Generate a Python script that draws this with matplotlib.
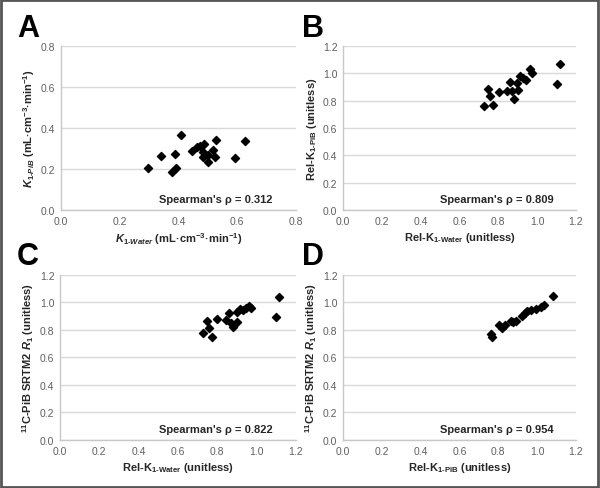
import numpy as np
import matplotlib
matplotlib.use('Agg')
import matplotlib.pyplot as plt
from matplotlib.patches import Rectangle

plt.rcParams['font.family'] = ['Liberation Sans', 'DejaVu Sans']
plt.rcParams['mathtext.fontset'] = 'custom'
plt.rcParams['mathtext.rm'] = 'Liberation Sans:bold'
plt.rcParams['mathtext.bf'] = 'Liberation Sans:bold'
plt.rcParams['mathtext.it'] = 'Liberation Sans:italic:bold'

# panel A: K1-Water vs K1-PiB
a_x = [0.295, 0.341, 0.389, 0.408, 0.377, 0.392, 0.445, 0.463, 0.474, 0.488,
       0.483, 0.483, 0.502, 0.502, 0.525, 0.519, 0.528, 0.591, 0.627]
a_y = [0.205, 0.262, 0.272, 0.366, 0.187, 0.203, 0.289, 0.306, 0.314, 0.320,
       0.285, 0.257, 0.268, 0.236, 0.257, 0.294, 0.340, 0.255, 0.337]

# panel B: Rel-K1-Water vs Rel-K1-PiB
b_x = [0.728, 0.745, 0.759, 0.772, 0.802, 0.845, 0.859, 0.869, 0.879, 0.897,
       0.902, 0.914, 0.928, 0.943, 0.962, 0.971, 1.103, 1.117]
b_y = [0.762, 0.888, 0.835, 0.771, 0.866, 0.871, 0.939, 0.871, 0.815, 0.932,
       0.878, 0.981, 0.968, 0.949, 1.034, 1.005, 0.920, 1.071]

# panel C: Rel-K1-Water vs R1
c_x = [0.729, 0.746, 0.759, 0.773, 0.800, 0.844, 0.858, 0.868, 0.878, 0.898,
       0.902, 0.915, 0.932, 0.946, 0.963, 0.969, 1.098, 1.115]
c_y = [0.775, 0.862, 0.814, 0.751, 0.877, 0.872, 0.920, 0.852, 0.823, 0.930,
       0.857, 0.952, 0.944, 0.959, 0.973, 0.959, 0.896, 1.041]

# panel D: Rel-K1-PiB vs R1
d_x = [0.760, 0.769, 0.803, 0.821, 0.833, 0.864, 0.876, 0.890, 0.924, 0.938,
       0.950, 0.967, 0.993, 1.019, 1.036, 1.080]
d_y = [0.770, 0.750, 0.835, 0.818, 0.835, 0.866, 0.855, 0.866, 0.903, 0.927,
       0.939, 0.946, 0.951, 0.964, 0.980, 1.048]

rho = ['0.312', '0.809', '0.822', '0.954']
letters = ['A', 'B', 'C', 'D']

xlabels = [r'$K_{1\text{-}Water}$ (mL·cm$^{\mathrm{-3}}$·min$^{\mathrm{-1}}$)',
           r'Rel-K$_{\mathrm{1\text{-}Water}}$ (unitless)',
           r'Rel-K$_{\mathrm{1\text{-}Water}}$ (unitless)',
           r'Rel-K$_{\mathrm{1\text{-}PiB}}$ (unitless)']
ylabels = [r'$K_{1\text{-}PiB}$ (mL·cm$^{\mathrm{-3}}$·min$^{\mathrm{-1}}$)',
           r'Rel-K$_{\mathrm{1\text{-}PiB}}$ (unitless)',
           r'$^{\mathrm{11}}$C-PiB SRTM2 $R_{\mathrm{1}}$ (unitless)',
           r'$^{\mathrm{11}}$C-PiB SRTM2 $R_{\mathrm{1}}$ (unitless)']

xs = [a_x, b_x, c_x, d_x]
ys = [a_y, b_y, c_y, d_y]

fig = plt.figure(figsize=(6.0, 4.89), dpi=100)
fig.patches.append(Rectangle((0.002, 0.003), 0.995, 0.994, transform=fig.transFigure,
                             fill=False, edgecolor='#555555', linewidth=2))

boxes = [[0.1017, 0.5685, 0.3917, 0.3354],
         [0.5717, 0.5685, 0.3883, 0.3354],
         [0.1000, 0.0982, 0.3933, 0.3374],
         [0.5717, 0.0982, 0.3883, 0.3374]]
letter_pos = [(0.028, 0.94), (0.503, 0.94), (0.028, 0.475), (0.503, 0.475)]

for i in range(4):
    ax = fig.add_axes(boxes[i])
    top = 0.8 if i == 0 else 1.2
    xmax = 0.8 if i == 0 else 1.2
    ax.set_xlim(0, xmax)
    ax.set_ylim(0, top)
    ax.set_xticks(np.arange(0, xmax + 0.01, 0.2))
    ax.set_yticks(np.arange(0, top + 0.01, 0.2))
    ax.xaxis.set_major_formatter(matplotlib.ticker.FormatStrFormatter('%.1f'))
    ax.yaxis.set_major_formatter(matplotlib.ticker.FormatStrFormatter('%.1f'))
    ax.grid(axis='y', color='#d9d9d9', linewidth=1)
    ax.set_axisbelow(True)
    for s in ['top', 'right']:
        ax.spines[s].set_visible(False)
    for s in ['left', 'bottom']:
        ax.spines[s].set_color('#c8c8c8')
        ax.spines[s].set_linewidth(1)
    ax.tick_params(length=0, labelsize=7.5, labelcolor='#606060', pad=4)
    ax.scatter(xs[i], ys[i], marker='D', s=17, color='black', zorder=3, clip_on=False)
    ax.set_xlabel(xlabels[i], fontsize=8, fontweight='bold', color='#262626', labelpad=3)
    ax.set_ylabel(ylabels[i], fontsize=8, fontweight='bold', color='#262626', labelpad=3)
    ax.text(0.66, 0.065, "Spearman's ρ = " + rho[i], transform=ax.transAxes,
            ha='center', va='center', fontsize=8, fontweight='bold', color='#262626')
    fig.text(letter_pos[i][0], letter_pos[i][1], letters[i], fontsize=22,
             fontweight='bold', color='black', ha='left', va='center')

fig.savefig('out.png', dpi=100, facecolor='white')
